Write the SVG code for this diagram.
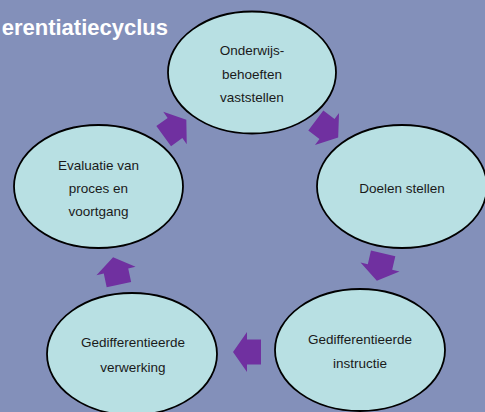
<svg xmlns="http://www.w3.org/2000/svg" width="485" height="412" viewBox="0 0 485 412">
  <defs>
    <style>
      .node { fill: #B8E0E3; stroke: #000; stroke-width: 1.8; }
      .lbl { font-family: "Liberation Sans", Arial, sans-serif; font-size: 13.5px; fill: #1a1a1a; text-anchor: middle; }
      .title { font-family: "Liberation Sans", Arial, sans-serif; font-size: 22px; font-weight: bold; fill: #ffffff; text-anchor: end; }
      .arrow { fill: #7030A0; }
    </style>
    <path id="blockArrow" d="M-14,-12.5 H0 V-20 L14,0 L0,20 V12.5 H-14 Z"/>
  </defs>
  <rect width="485" height="412" fill="#8390BA"/>
  <text class="title" x="168" y="35">erentiatiecyclus</text>

  <g id="connectors">
    <use href="#blockArrow" class="arrow" transform="translate(175,128) rotate(-36)"/>
    <use href="#blockArrow" class="arrow" transform="translate(327,129) rotate(37)"/>
    <use href="#blockArrow" class="arrow" transform="translate(380,267) rotate(103)"/>
    <use href="#blockArrow" class="arrow" transform="translate(247,352) rotate(180)"/>
    <use href="#blockArrow" class="arrow" transform="translate(116,271) rotate(-102)"/>
  </g>

  <g id="node-onderwijsbehoeften">
    <ellipse class="node" cx="252" cy="72.5" rx="84" ry="61"/>
    <text class="lbl" x="252" y="55">Onderwijs-</text>
    <text class="lbl" x="252" y="79">behoeften</text>
    <text class="lbl" x="252" y="102">vaststellen</text>
  </g>

  <g id="node-doelen">
    <ellipse class="node" cx="402" cy="186.5" rx="85" ry="61.5"/>
    <text class="lbl" x="402" y="193">Doelen stellen</text>
  </g>

  <g id="node-instructie">
    <ellipse class="node" cx="360" cy="350" rx="85" ry="61"/>
    <text class="lbl" x="360" y="344">Gedifferentieerde</text>
    <text class="lbl" x="360" y="368">instructie</text>
  </g>

  <g id="node-verwerking">
    <ellipse class="node" cx="132" cy="354" rx="85" ry="61"/>
    <text class="lbl" x="133" y="347">Gedifferentieerde</text>
    <text class="lbl" x="133" y="372">verwerking</text>
  </g>

  <g id="node-evaluatie">
    <ellipse class="node" cx="98.5" cy="186.5" rx="84.5" ry="61.5"/>
    <text class="lbl" x="98.5" y="170">Evaluatie van</text>
    <text class="lbl" x="98.5" y="193">proces en</text>
    <text class="lbl" x="98.5" y="216">voortgang</text>
  </g>
</svg>
